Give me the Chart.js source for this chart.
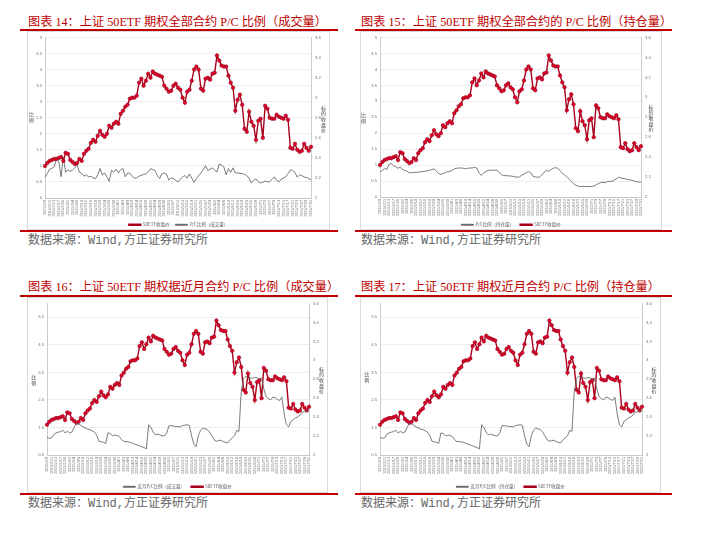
<!DOCTYPE html>
<html><head><meta charset="utf-8">
<script src="https://cdn.jsdelivr.net/npm/chart.js@4.4.0/dist/chart.umd.min.js"></script>
<style>
body{margin:0;background:#fff;width:705px;height:540px;position:relative;overflow:hidden;font-family:"Liberation Serif","Noto Sans CJK SC",serif;}
.title{position:absolute;font-size:12.2px;color:#c00000;white-space:nowrap;line-height:14px;}
.rule{position:absolute;height:2px;background:#c00000;}
.frame{position:absolute;border:1px solid #dadada;box-sizing:border-box;}
.src{position:absolute;font-size:12px;color:#666;white-space:nowrap;line-height:14px;font-family:"Noto Sans CJK SC",sans-serif;}
.src .m{font-family:"Liberation Mono",monospace;}
canvas{position:absolute;}
</style></head>
<body>
<div class="title" style="left:28px;top:15px;">图表 14：上证 50ETF 期权全部合约 P/C 比例（成交量）</div>
<div class="title" style="left:361px;top:15px;">图表 15：上证 50ETF 期权全部合约的 P/C 比例（持仓量）</div>
<div class="title" style="left:28px;top:280px;">图表 16：上证 50ETF 期权据近月合约 P/C 比例（成交量）</div>
<div class="title" style="left:361px;top:280px;">图表 17：上证 50ETF 期权近月合约 P/C 比例（持仓量）</div>

<div class="rule" style="left:20px;top:29px;width:318px;"></div>
<div class="rule" style="left:355px;top:29px;width:317px;"></div>
<div class="rule" style="left:20px;top:230px;width:318px;"></div>
<div class="rule" style="left:355px;top:230px;width:317px;"></div>
<div class="rule" style="left:20px;top:295px;width:318px;"></div>
<div class="rule" style="left:355px;top:295px;width:317px;"></div>
<div class="rule" style="left:20px;top:493px;width:318px;"></div>
<div class="rule" style="left:355px;top:493px;width:317px;"></div>

<div class="frame" style="left:27px;top:31px;width:303px;height:199px;"></div>
<div class="frame" style="left:360px;top:31px;width:302px;height:199px;"></div>
<div class="frame" style="left:27px;top:297px;width:301px;height:196px;"></div>
<div class="frame" style="left:360px;top:297px;width:301px;height:196px;"></div>

<div class="src" style="left:28px;top:232px;">数据来源：<span class="m">Wind,</span>方正证券研究所</div>
<div class="src" style="left:361px;top:232px;">数据来源：<span class="m">Wind,</span>方正证券研究所</div>
<div class="src" style="left:28px;top:495px;">数据来源：<span class="m">Wind,</span>方正证券研究所</div>
<div class="src" style="left:361px;top:495px;">数据来源：<span class="m">Wind,</span>方正证券研究所</div>

<canvas id="c14" width="303" height="206" style="left:27px;top:31px;"></canvas>
<canvas id="c15" width="302" height="206" style="left:360px;top:31px;"></canvas>
<canvas id="c16" width="301" height="202" style="left:27px;top:297px;"></canvas>
<canvas id="c17" width="301" height="202" style="left:360px;top:297px;"></canvas>

<script>
const dateLabels = [
'2015/2/9','2015/2/10','2015/2/11','2015/2/12','2015/2/13','2015/2/16','2015/2/17','2015/2/25','2015/2/26','2015/2/27',
'2015/3/2','2015/3/3','2015/3/4','2015/3/5','2015/3/6','2015/3/9','2015/3/10','2015/3/11','2015/3/12','2015/3/13',
'2015/3/16','2015/3/17','2015/3/18','2015/3/19','2015/3/20','2015/3/23','2015/3/24','2015/3/25','2015/3/26','2015/3/27',
'2015/3/30','2015/3/31','2015/4/1','2015/4/2','2015/4/3','2015/4/7','2015/4/8','2015/4/9','2015/4/10','2015/4/13',
'2015/4/14','2015/4/15','2015/4/16','2015/4/17','2015/4/20','2015/4/21','2015/4/22','2015/4/23','2015/4/24','2015/4/27',
'2015/4/28','2015/4/29','2015/4/30','2015/5/4','2015/5/5','2015/5/6','2015/5/7','2015/5/8','2015/5/11','2015/5/12',
'2015/5/13','2015/5/14','2015/5/15','2015/5/18','2015/5/19','2015/5/20','2015/5/21','2015/5/22','2015/5/25','2015/5/26',
'2015/5/27','2015/5/28','2015/5/29','2015/6/1','2015/6/2','2015/6/3','2015/6/4','2015/6/5','2015/6/8','2015/6/9',
'2015/6/10','2015/6/11','2015/6/12','2015/6/15','2015/6/16','2015/6/17','2015/6/18','2015/6/19','2015/6/23','2015/6/24',
'2015/6/25','2015/6/26','2015/6/29','2015/6/30','2015/7/1','2015/7/2','2015/7/3','2015/7/6','2015/7/7','2015/7/8',
'2015/7/9','2015/7/10','2015/7/13','2015/7/14','2015/7/15','2015/7/16','2015/7/17','2015/7/20','2015/7/21','2015/7/22',
'2015/7/23','2015/7/24','2015/7/27','2015/7/28','2015/7/29','2015/7/30','2015/7/31'];

const etfClose = [
2.32,2.35,2.37,2.38,2.39,2.39,2.40,2.41,2.37,2.45,
2.44,2.38,2.36,2.34,2.35,2.39,2.37,2.44,2.47,2.49,
2.55,2.58,2.56,2.62,2.67,2.63,2.61,2.64,2.72,2.70,
2.74,2.76,2.74,2.84,2.87,2.91,2.93,2.99,3.00,3.00,
3.02,3.15,3.19,3.12,3.17,3.24,3.20,3.26,3.24,3.23,
3.22,3.21,3.12,3.09,3.06,3.07,3.12,3.14,3.10,3.08,
3.00,2.95,3.06,3.08,3.17,3.28,3.31,3.28,3.09,3.07,
3.19,3.20,3.18,3.24,3.25,3.42,3.37,3.32,3.31,3.31,
3.22,3.15,3.10,2.87,2.98,3.03,2.93,2.69,2.66,2.86,
2.76,2.72,2.58,2.77,2.79,2.60,2.92,2.89,2.80,2.79,
2.79,2.83,2.81,2.80,2.79,2.82,2.78,2.50,2.49,2.54,
2.48,2.46,2.47,2.54,2.50,2.47,2.51];

const pcVolumeAll = [
0.64,0.76,0.90,0.92,0.98,1.22,1.15,0.66,1.27,0.80,
0.88,0.83,0.87,0.94,1.05,0.80,0.77,0.68,0.72,0.66,
0.68,0.63,0.60,0.72,0.92,0.72,0.78,0.66,0.52,0.86,
0.81,0.90,0.78,0.88,0.92,0.66,0.78,0.77,0.68,0.61,
0.63,0.68,0.71,0.73,0.75,0.82,0.91,0.89,0.85,0.70,
0.61,0.76,0.78,0.74,0.56,0.63,0.60,0.55,0.50,0.58,
0.66,0.70,0.62,0.75,0.62,0.49,0.60,0.70,0.78,0.88,
1.00,0.86,0.90,0.94,0.86,0.81,1.06,1.02,0.97,0.72,
0.92,0.80,0.94,0.78,0.78,0.77,0.76,0.74,0.70,0.61,
0.47,0.54,0.60,0.51,0.47,0.49,0.53,0.50,0.51,0.58,
0.66,0.55,0.50,0.59,0.62,0.66,0.76,0.88,0.86,0.80,
0.65,0.72,0.70,0.65,0.64,0.61,0.56];

const pcOpenIntAll = [
0.78,0.83,0.90,0.86,1.02,1.05,0.98,0.95,0.90,0.94,
0.87,0.83,0.81,0.76,0.76,0.77,0.77,0.78,0.79,0.80,
0.81,0.82,0.84,0.86,0.88,0.82,0.74,0.71,0.73,0.77,
0.79,0.80,0.83,0.88,0.90,0.91,0.91,0.90,0.88,0.90,
0.91,0.91,0.93,0.91,0.76,0.68,0.75,0.80,0.83,0.84,
0.84,0.84,0.84,0.76,0.70,0.67,0.67,0.66,0.66,0.65,
0.63,0.62,0.63,0.68,0.72,0.76,0.80,0.76,0.65,0.63,
0.62,0.63,0.70,0.78,0.84,0.80,0.86,0.90,0.92,0.90,
0.83,0.74,0.69,0.63,0.56,0.49,0.42,0.37,0.34,0.33,
0.33,0.33,0.33,0.33,0.33,0.34,0.38,0.42,0.45,0.46,
0.45,0.48,0.49,0.49,0.52,0.57,0.62,0.60,0.58,0.57,
0.55,0.54,0.52,0.50,0.48,0.47,0.47];

const pcNearMonth = [
1.15,1.10,1.12,1.25,1.30,1.33,1.35,1.40,1.30,1.36,
1.30,1.33,1.50,1.65,1.62,1.58,1.52,1.48,1.44,1.42,
1.38,1.33,1.22,1.00,0.98,0.96,0.92,1.30,1.28,1.20,
1.22,1.21,1.17,1.06,0.99,0.99,0.97,0.96,0.92,0.89,
0.86,0.83,0.80,0.77,0.72,1.60,1.50,1.33,1.23,1.26,
1.23,1.20,1.19,1.30,1.56,1.57,1.55,1.54,1.53,1.52,
1.57,1.58,1.60,1.58,1.20,0.90,0.80,1.20,1.40,1.48,
1.45,1.42,1.33,1.20,1.05,1.00,1.02,1.04,0.98,0.96,
0.94,1.05,1.12,1.20,1.39,1.36,2.80,3.28,3.35,3.33,
3.30,3.28,3.32,3.30,3.26,3.30,2.90,2.62,2.55,2.50,
2.60,2.58,2.52,2.48,2.60,2.00,1.60,1.52,1.72,1.78,
1.85,1.88,1.95,2.05,2.07,2.10,2.12];

const leftTicksAll = [0,0.5,1,1.5,2,2.5,3,3.5,4,4.5,5];
const leftTicksNear = [0.5,1.5,2.5,3.5,4.5,5.5];
const rightTicks = [2,2.2,2.4,2.6,2.8,3,3.2,3.4,3.6];

const priceLabel = '50ETF收盘价';
const leftTitle = '比例';
const rightTitle = '标的收盘价';

const vtitlePlugin = {
  id: 'vtitles',
  afterDraw(chart, args, opts) {
    const ctx = chart.ctx;
    ctx.save();
    ctx.font = '5px "Noto Sans CJK SC"';
    ctx.fillStyle = '#404040';
    ctx.textAlign = 'center';
    ctx.textBaseline = 'middle';
    (opts.items || []).forEach(it => {
      const chars = [...it.text];
      const step = 5.6;
      const y0 = it.y - (chars.length - 1) * step / 2;
      chars.forEach((c, i) => ctx.fillText(c, it.x, y0 + i * step));
    });
    ctx.restore();
  }
};

function priceDS() {
  return {
    label: priceLabel, data: etfClose, yAxisID: 'y1',
    borderColor: '#a8001c', backgroundColor: '#e0002a', borderWidth: 1.4,
    pointRadius: 1.75, pointBackgroundColor: '#e6002c', pointBorderColor: '#8b0015',
    pointBorderWidth: 0.6, tension: 0
  };
}
function grayDS(label, data) {
  return {
    label: label, data: data, yAxisID: 'y',
    borderColor: '#636363', backgroundColor: '#636363', borderWidth: 0.85,
    pointRadius: 0, tension: 0
  };
}

function makeChart(id, cfg) {
  const ds = cfg.priceFirst ? [priceDS(), grayDS(cfg.grayLabel, cfg.grayData)]
                            : [grayDS(cfg.grayLabel, cfg.grayData), priceDS()];
  const tickFont = {family: 'Liberation Sans', size: 4.2};
  new Chart(document.getElementById(id), {
    type: 'line',
    data: {labels: dateLabels, datasets: ds},
    plugins: [vtitlePlugin],
    options: {
      responsive: false, animation: false,
      layout: {padding: {top: cfg.padTop, left: 0, right: 0, bottom: 0}},
      plugins: {
        legend: {position: 'bottom', labels: {font: {family: 'Noto Sans CJK SC', size: 4.5}, color: '#595959', boxWidth: 12, boxHeight: 1, padding: 6}},
        tooltip: {enabled: false},
        vtitles: {items: [
          {text: leftTitle, x: cfg.lt[0], y: cfg.lt[1]},
          {text: rightTitle, x: cfg.rt[0], y: cfg.rt[1]}
        ]}
      },
      scales: {
        x: {
          ticks: {font: {family: 'Liberation Sans', size: 3.8}, color: '#707070', minRotation: 90, maxRotation: 90, autoSkip: false, padding: 2,
            callback: function(v, i) { return i % 2 === 0 ? this.getLabelForValue(v) : ''; }},
          grid: {display: false, drawTicks: false},
          border: {color: '#bfbfbf', width: 0.8},
          afterFit(s) { s.height = cfg.xH; }
        },
        y: {
          position: 'left', min: cfg.leftTicks[0], max: cfg.leftMax,
          afterBuildTicks(s) { s.ticks = cfg.leftTicks.map(v => ({value: v})); },
          ticks: {font: tickFont, color: '#707070', padding: 3, callback: v => String(v)},
          grid: {color: '#e2e2e2', lineWidth: 0.6, drawTicks: false},
          border: {color: '#bfbfbf', width: 0.8},
          afterFit(s) { s.width = cfg.lW; }
        },
        y1: {
          position: 'right', min: rightTicks[0], max: rightTicks[rightTicks.length - 1],
          afterBuildTicks(s) { s.ticks = rightTicks.map(v => ({value: v})); },
          ticks: {font: tickFont, color: '#707070', padding: 4, callback: v => String(v)},
          grid: {drawOnChartArea: false, drawTicks: false},
          border: {color: '#bfbfbf', width: 0.8},
          afterFit(s) { s.width = cfg.rW; }
        }
      }
    }
  });
}

makeChart('c14', {priceFirst: true, grayLabel: 'P/C比例（成交量）', grayData: pcVolumeAll,
  leftTicks: leftTicksAll, leftMax: 5, padTop: 4, xH: 18.5, lW: 18, rW: 19, lt: [4.5, 86], rt: [296.5, 88]});
makeChart('c15', {priceFirst: false, grayLabel: 'P/C比例（持仓量）', grayData: pcOpenIntAll,
  leftTicks: leftTicksAll, leftMax: 5, padTop: 5, xH: 19.5, lW: 20, rW: 21, lt: [3.5, 87], rt: [291, 87]});
makeChart('c16', {priceFirst: false, grayLabel: '近月P/C比例（成交量）', grayData: pcNearMonth,
  leftTicks: leftTicksNear, leftMax: 6, padTop: 4, xH: 23.5, lW: 20, rW: 19, lt: [6.7, 83], rt: [294.5, 83]});
makeChart('c17', {priceFirst: false, grayLabel: '近月P/C比例（持仓量）', grayData: pcNearMonth,
  leftTicks: leftTicksNear, leftMax: 6, padTop: 4, xH: 23.5, lW: 20, rW: 19, lt: [6.7, 80], rt: [294, 83]});
</script>
</body></html>
